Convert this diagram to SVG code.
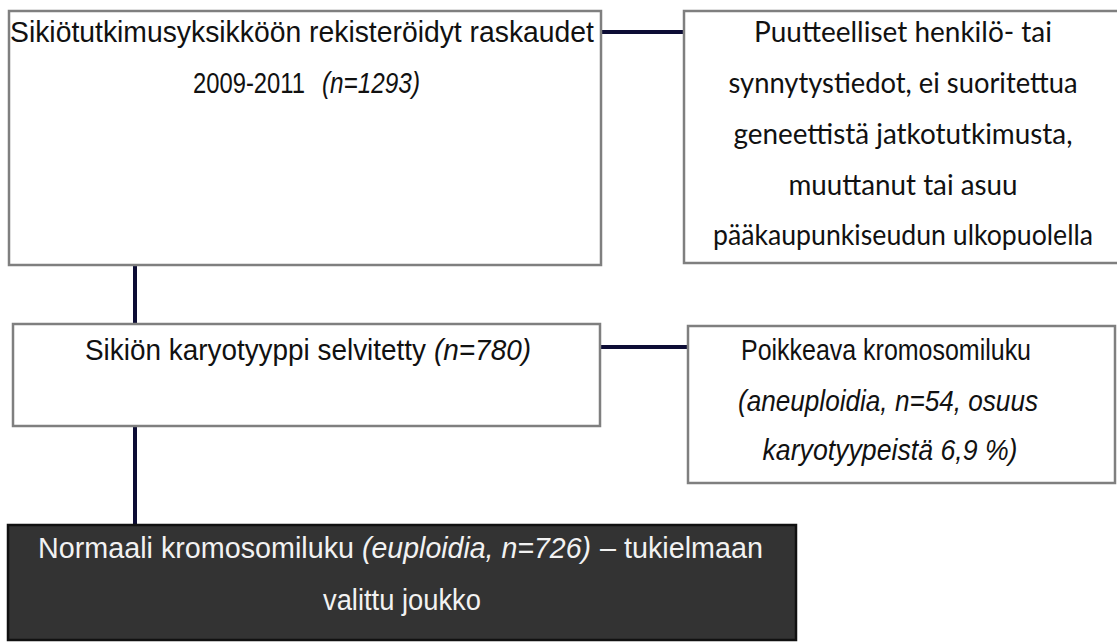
<svg xmlns="http://www.w3.org/2000/svg" width="1117" height="642" viewBox="0 0 1117 642">
<style>
.box{fill:#ffffff;stroke:#7f7f7f;stroke-width:2.5}
.dark{fill:#333333;stroke:#111111;stroke-width:2.5}
.con{stroke:#0d0d35;stroke-width:4;fill:none}
.t{font-family:"Liberation Sans Narrow","Liberation Sans",Arial,sans-serif;font-size:29px;fill:#111111;text-anchor:middle}
.s{text-anchor:start}
.t2{font-family:"Lato","Liberation Sans",Arial,sans-serif;font-size:28px;fill:#111111;text-anchor:middle}
.w{fill:#f2f2f2}
.i{font-style:italic}
</style>
<rect width="1117" height="642" fill="#ffffff"/>
<g id="connectors">
<line class="con" x1="601" y1="32" x2="684" y2="32"/>
<line class="con" x1="135" y1="265" x2="135" y2="324"/>
<line class="con" x1="600" y1="347" x2="688" y2="347"/>
<line class="con" x1="135" y1="426" x2="135" y2="525"/>
</g>
<g id="n1">
<rect class="box" x="9" y="11" width="592" height="254"/>
<text class="t" x="302" y="42" textLength="584" lengthAdjust="spacingAndGlyphs">Sikiötutkimusyksikköön rekisteröidyt raskaudet</text>
<text class="t s" x="193" y="93" textLength="112" lengthAdjust="spacingAndGlyphs">2009-2011</text>
<text class="t s i" x="322" y="93" textLength="98" lengthAdjust="spacingAndGlyphs">(n=1293)</text>
</g>
<g id="n2">
<rect class="box" x="684" y="11" width="445" height="252"/>
<text class="t2" x="903" y="42" textLength="298" lengthAdjust="spacingAndGlyphs">Puutteelliset henkilö- tai</text>
<text class="t2" x="903" y="93" textLength="349" lengthAdjust="spacingAndGlyphs">synnytystiedot, ei suoritettua</text>
<text class="t2" x="903" y="144" textLength="339" lengthAdjust="spacingAndGlyphs">geneettistä jatkotutkimusta,</text>
<text class="t2" x="903" y="195" textLength="229" lengthAdjust="spacingAndGlyphs">muuttanut tai asuu</text>
<text class="t2" x="903" y="245" textLength="380" lengthAdjust="spacingAndGlyphs">pääkaupunkiseudun ulkopuolella</text>
</g>
<g id="n3">
<rect class="box" x="13" y="324" width="587" height="102"/>
<text class="t s" x="85" y="360" textLength="341" lengthAdjust="spacingAndGlyphs">Sikiön karyotyyppi selvitetty</text>
<text class="t s i" x="434" y="360" textLength="97" lengthAdjust="spacingAndGlyphs">(n=780)</text>
</g>
<g id="n4">
<rect class="box" x="688" y="326" width="427" height="157"/>
<text class="t" x="886" y="360" textLength="290" lengthAdjust="spacingAndGlyphs">Poikkeava kromosomiluku</text>
<text class="t i" x="888" y="411" textLength="300" lengthAdjust="spacingAndGlyphs">(aneuploidia, n=54, osuus</text>
<text class="t i" x="890" y="460" textLength="255" lengthAdjust="spacingAndGlyphs">karyotyypeistä 6,9 %)</text>
</g>
<g id="n5">
<rect class="dark" x="8" y="525" width="788" height="115"/>
<text class="t s w" x="38" y="558" textLength="316" lengthAdjust="spacingAndGlyphs">Normaali kromosomiluku</text>
<text class="t s w i" x="362" y="558" textLength="229" lengthAdjust="spacingAndGlyphs">(euploidia, n=726)</text>
<text class="t s w" x="600" y="558" textLength="163" lengthAdjust="spacingAndGlyphs">– tukielmaan</text>
<text class="t w" x="402" y="610" textLength="158" lengthAdjust="spacingAndGlyphs">valittu joukko</text>
</g>
</svg>
